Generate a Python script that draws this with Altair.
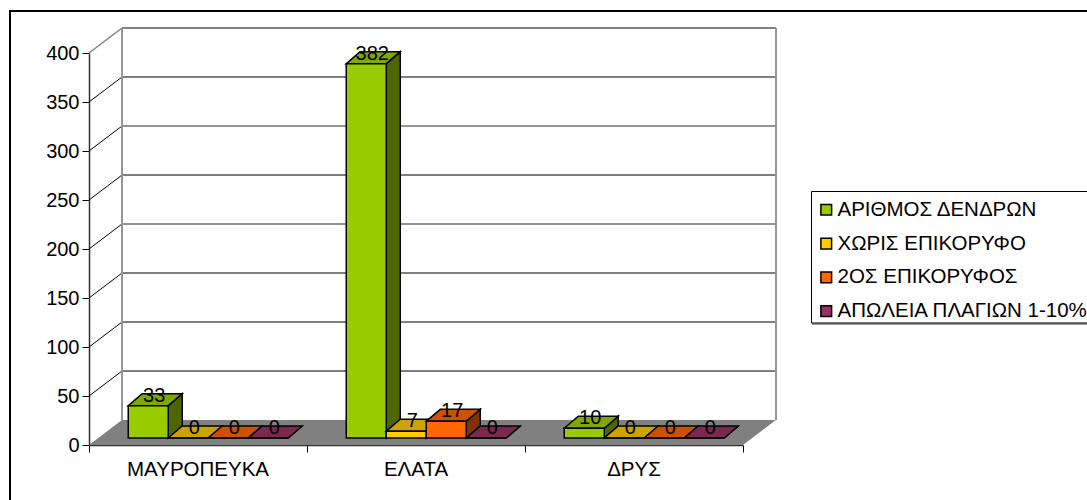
import altair as alt
import pandas as pd

# Inventory figures per species and damage class
species = ["ΜΑΥΡΟΠΕΥΚΑ", "ΕΛΑΤΑ", "ΔΡΥΣ"]
series = ["ΑΡΙΘΜΟΣ ΔΕΝΔΡΩΝ", "ΧΩΡΙΣ ΕΠΙΚΟΡΥΦΟ", "2ΟΣ ΕΠΙΚΟΡΥΦΟΣ", "ΑΠΩΛΕΙΑ ΠΛΑΓΙΩΝ 1-10%"]
trees = [33, 382, 10]
no_leader = [0, 7, 0]
second_leader = [0, 17, 0]
side_loss = [0, 0, 0]
y_ticks = [0, 50, 100, 150, 200, 250, 300, 350, 400]
soft_grid = [200, 300]

# Face colours for each series
front_colors = ["#99CC00", "#FFCC00", "#FF6600", "#993366"]
top_colors = ["#7FA800", "#CCA300", "#CC5200", "#7A2852"]
side_colors = ["#4D6600", "#806600", "#803300", "#4D1A33"]

FONT = "Liberation Sans"
NUM_SIZE = 20
TEXT_SIZE = 20.5

# Oblique projection: a full step in depth moves this far along each scale
DEPTH_X = 33 / 218
DEPTH_Y = 25 / 0.98
BAR_WIDTH = 40 / 218
BAR_START = 30 / 218
NEAR_X = 0.28 * DEPTH_X
FAR_X = NEAR_X + 14 / 218
NEAR_Y = 0.28 * DEPTH_Y
FAR_Y = 0.76 * DEPTH_Y
LABEL_SHIFT = 6 / 218

x_scale = alt.Scale(domain=[0, 3], range=[89, 743], nice=False, zero=False)
y_scale = alt.Scale(domain=[0, 400], range=[445, 53], nice=False, zero=False)


def X(field):
    return alt.X(field, type="quantitative", scale=x_scale, title=None)


def Y(field):
    return alt.Y(field, type="quantitative", scale=y_scale, title=None)


# Axes sit inside the canvas, pulled in from its edges
y_axis = alt.Chart(pd.DataFrame({"v": y_ticks})).mark_rule(opacity=0).encode(
    y=alt.Y("v:Q", scale=y_scale, axis=alt.Axis(
        values=y_ticks, title=None, offset=-89, grid=False, tickSize=7,
        labelPadding=3, labelFont=FONT, labelFontSize=NUM_SIZE, labelColor="#000000",
        domainColor="#333333", domainWidth=1.5, tickColor="#000000",
    ))
)
x_axis = alt.Chart(pd.DataFrame({"v": [0, 1, 2, 3]})).mark_rule(opacity=0).encode(
    x=alt.X("v:Q", scale=x_scale, axis=alt.Axis(
        values=[0, 1, 2, 3], title=None, offset=-55, grid=False, tickSize=7,
        labels=False, domainColor="#333333", domainWidth=1.5, tickColor="#000000",
    ))
)

# Walls and floor of the box
floor = pd.DataFrame({
    "y": [0, DEPTH_Y],
    "x": [0, DEPTH_X],
    "x2": [3, 3 + DEPTH_X],
})
floor_layer = alt.Chart(floor).mark_area(orient="horizontal", color="#808080").encode(
    x=X("x"), x2="x2", y=Y("y")
)

grid = pd.DataFrame({"v": [v for v in y_ticks if 0 < v < 400]})
grid["x"] = DEPTH_X
grid["x2"] = 3 + DEPTH_X
grid["y"] = grid.v + DEPTH_Y
back_lines = alt.Chart(grid[~grid.v.isin(soft_grid)]).mark_rule(color="#000000", strokeWidth=1).encode(
    x=X("x"), x2="x2", y=Y("y")
)
back_soft = alt.Chart(grid[grid.v.isin(soft_grid)]).mark_rule(color="#707070", strokeWidth=1.5).encode(
    x=X("x"), x2="x2", y=Y("y")
)
back_top = alt.Chart(pd.DataFrame({"x": [DEPTH_X], "x2": [3 + DEPTH_X], "y": [400 + DEPTH_Y]})).mark_rule(
    color="#808080", strokeWidth=2
).encode(x=X("x"), x2="x2", y=Y("y"))

diag_rows = []
for v in y_ticks:
    diag_rows.append({"tick": v, "x": 0, "y": v})
    diag_rows.append({"tick": v, "x": DEPTH_X, "y": v + DEPTH_Y})
diag = pd.DataFrame(diag_rows)
diag_lines = alt.Chart(diag[diag.tick.between(50, 350)]).mark_line(color="#000000", strokeWidth=1).encode(
    x=X("x"), y=Y("y"), detail="tick:N"
)
diag_top = alt.Chart(diag[diag.tick == 400]).mark_line(color="#808080", strokeWidth=1.5).encode(
    x=X("x"), y=Y("y"), detail="tick:N"
)

wall_edges = pd.DataFrame({
    "x": [DEPTH_X, 3 + DEPTH_X],
    "y": [DEPTH_Y, DEPTH_Y],
    "y2": [400 + DEPTH_Y, 400 + DEPTH_Y],
})
wall_layer = alt.Chart(wall_edges).mark_rule(color="#969696", strokeWidth=2).encode(
    x=X("x"), y=Y("y"), y2="y2"
)

species_labels = alt.Chart(pd.DataFrame({"name": species, "pos": [0.5, 1.5, 2.5]})).mark_text(
    font=FONT, fontSize=TEXT_SIZE, color="#000000", baseline="middle", align="center", dy=1
).encode(
    x=X("pos"), y=alt.value(469), text="name:N"
)

# Bars, drawn from left to right so that each one overlaps its neighbour's side
values_by_series = [trees, no_leader, second_leader, side_loss]
bar_layers = []
label_rows = []
for s, (name, vals) in enumerate(zip(series, values_by_series)):
    side_rows, top_rows, front_rows = [], [], []
    for c, value in enumerate(vals):
        left = c + BAR_START + s * BAR_WIDTH
        right = left + BAR_WIDTH
        front_rows.append({
            "series": name, "x": left + NEAR_X, "x2": right + NEAR_X,
            "y": NEAR_Y, "y2": value + NEAR_Y,
        })
        side_rows += [
            {"c": c, "x": right + NEAR_X, "y": NEAR_Y, "y2": value + NEAR_Y},
            {"c": c, "x": right + FAR_X, "y": FAR_Y, "y2": value + FAR_Y},
        ]
        top_rows += [
            {"c": c, "y": value + NEAR_Y, "x": left + NEAR_X, "x2": right + NEAR_X},
            {"c": c, "y": value + FAR_Y, "x": left + FAR_X, "x2": right + FAR_X},
        ]
        label_rows.append({
            "value": value,
            "x": (left + right) / 2 + NEAR_X + LABEL_SHIFT,
            "y": value + FAR_Y,
        })
    bar_layers.append(
        alt.Chart(pd.DataFrame(side_rows)).mark_area(
            orient="vertical", color=side_colors[s], stroke="#000000", strokeWidth=1.5
        ).encode(x=X("x"), y=Y("y"), y2="y2", detail="c:N")
    )
    bar_layers.append(
        alt.Chart(pd.DataFrame(top_rows)).mark_area(
            orient="horizontal", color=top_colors[s], stroke="#000000", strokeWidth=1.5
        ).encode(x=X("x"), x2="x2", y=Y("y"), detail="c:N")
    )
    bar_layers.append(
        alt.Chart(pd.DataFrame(front_rows)).mark_bar(stroke="#000000", strokeWidth=1.5).encode(
            x=X("x"), x2="x2", y=Y("y"), y2="y2",
            color=alt.Color(
                "series:N",
                scale=alt.Scale(domain=series, range=front_colors),
                legend=alt.Legend(
                    title=None, orient="none", legendX=816, legendY=199.5,
                    direction="vertical", padding=0, rowPadding=12.8,
                    symbolType="square", symbolSize=115,
                    symbolStrokeColor="#000000", symbolStrokeWidth=1.5,
                    labelFont=FONT, labelFontSize=TEXT_SIZE, labelColor="#000000",
                    labelLimit=400, labelOffset=1,
                ),
            ),
        )
    )

value_labels = alt.Chart(pd.DataFrame(label_rows)).mark_text(
    font=FONT, fontSize=NUM_SIZE, color="#000000", baseline="middle", align="center", dy=2
).encode(x=X("x"), y=Y("y"), text="value:Q")

# Chart frame, legend box and its shadow
one_row = pd.DataFrame({"k": [0]})
frame_left = alt.Chart(one_row).mark_rule(color="#000000", strokeWidth=2).encode(
    x=alt.value(10), y=alt.value(11), y2=alt.value(500)
)
frame_top = alt.Chart(one_row).mark_rule(color="#000000", strokeWidth=2).encode(
    x=alt.value(9), x2=alt.value(1087), y=alt.value(11)
)
legend_box = alt.Chart(one_row).mark_rect(fill="#FFFFFF", stroke="#000000", strokeWidth=1).encode(
    x=alt.value(811.5), x2=alt.value(1100), y=alt.value(191.5), y2=alt.value(323)
)
legend_shadow = alt.Chart(one_row).mark_rule(color="#808080", strokeWidth=1.5).encode(
    x=alt.value(812), x2=alt.value(1087), y=alt.value(324)
)

chart = alt.layer(
    y_axis, x_axis, frame_left, frame_top, floor_layer, back_lines, back_soft, back_top,
    diag_lines, diag_top, wall_layer, *bar_layers, value_labels, species_labels,
    legend_shadow, legend_box,
).properties(
    width=1087, height=500, padding=0,
    autosize=alt.AutoSizeParams(type="none"),
    background="#FFFFFF",
).configure_view(stroke=None)

chart.save("out.html", embed_options={"renderer": "svg", "actions": False})
